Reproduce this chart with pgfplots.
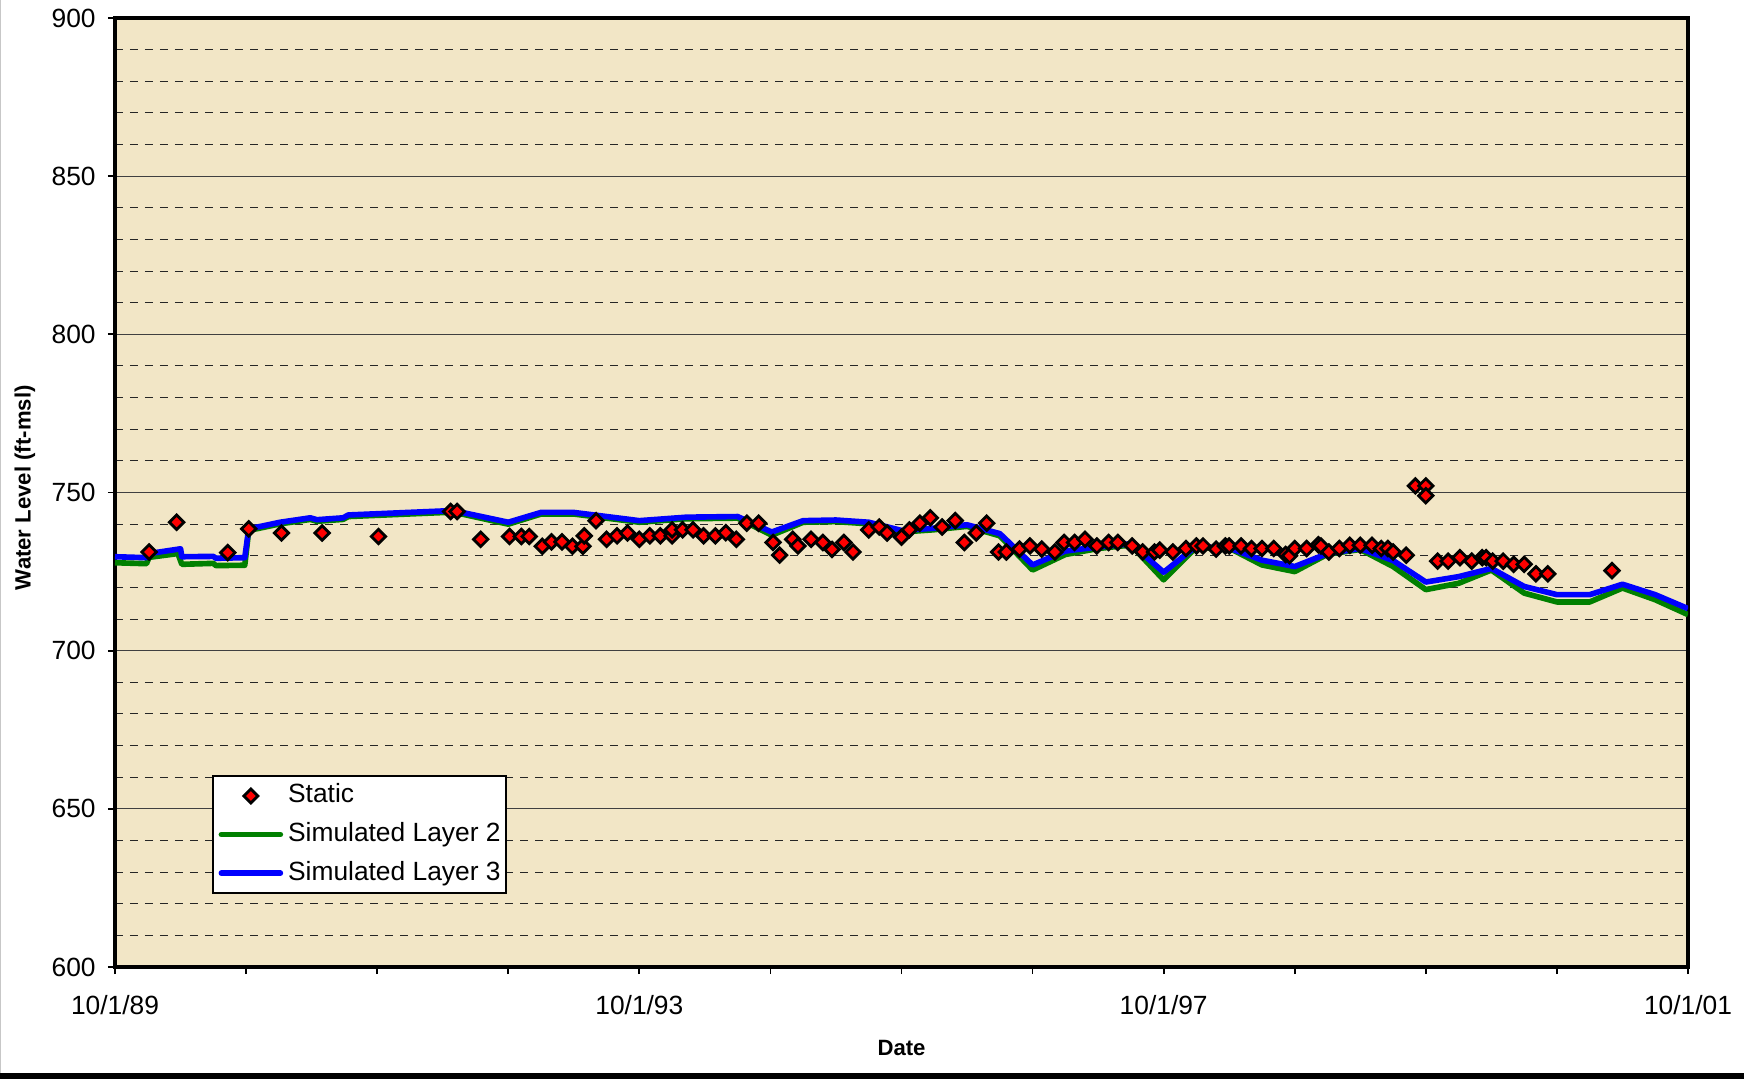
\documentclass[border=0pt]{standalone}
\usepackage{pgfplots}
\pgfplotsset{compat=1.18}
\usepackage{fontspec}
\setmainfont{Liberation Sans}
\definecolor{parch}{RGB}{242,230,198}
\definecolor{sgreen}{RGB}{0,128,0}
\definecolor{sblue}{RGB}{0,0,255}
\definecolor{sred}{RGB}{255,0,0}
\pgfplotstableread{
x y
0.26 731.2
0.47 740.6
0.86 731.0
1.02 738.5
1.27 737.2
1.58 737.2
2.01 736.1
2.56 744.0
2.61 744.0
2.79 735.2
3.01 736.1
3.10 736.1
3.16 736.1
3.26 733.0
3.33 734.4
3.41 734.4
3.49 733.0
3.57 733.0
3.58 736.3
3.67 741.1
3.75 735.2
3.83 736.3
3.91 737.2
4.00 735.2
4.08 736.3
4.16 736.3
4.25 736.3
4.25 738.2
4.33 738.2
4.41 738.2
4.49 736.3
4.58 736.3
4.66 737.3
4.74 735.2
4.82 740.3
4.91 740.3
5.02 734.2
5.07 730.2
5.17 735.2
5.21 733.1
5.31 735.2
5.40 734.2
5.47 732.0
5.56 734.2
5.63 731.2
5.75 738.2
5.83 739.1
5.89 737.2
6.00 735.9
6.06 738.2
6.14 740.3
6.22 742.0
6.31 739.1
6.41 741.1
6.48 734.2
6.57 737.2
6.65 740.3
6.74 731.2
6.80 731.2
6.90 732.1
6.98 733.1
7.07 732.1
7.17 731.2
7.24 734.2
7.32 734.2
7.40 735.2
7.49 733.1
7.58 734.2
7.65 734.2
7.76 733.1
7.84 731.2
7.93 731.2
7.97 731.8
8.07 731.2
8.17 732.3
8.25 733.1
8.30 733.1
8.40 732.1
8.47 733.1
8.50 733.1
8.59 733.1
8.67 732.3
8.75 732.3
8.84 732.3
8.93 730.4
8.96 730.0
9.00 732.3
9.09 732.3
9.18 733.5
9.20 733.1
9.26 731.2
9.34 732.3
9.42 733.3
9.50 733.3
9.59 733.3
9.66 732.3
9.71 732.3
9.75 731.2
9.85 730.2
9.92 752.1
10.00 752.1
10.00 749.0
10.09 728.3
10.17 728.3
10.26 729.4
10.35 728.3
10.43 729.4
10.46 729.4
10.51 728.3
10.59 728.3
10.67 727.3
10.75 727.3
10.84 724.3
10.93 724.3
11.42 725.3
}\staticdata
\pgfplotstableread{
x y
0.00 729.7
0.24 729.4
0.26 730.7
0.50 732.2
0.51 729.7
0.75 729.8
0.77 729.2
0.99 729.4
1.02 738.5
1.26 740.6
1.49 742.0
1.54 741.4
1.74 742.0
1.78 742.9
2.58 744.3
3.00 740.6
3.25 743.7
3.50 743.7
4.00 741.1
4.36 742.2
4.75 742.4
5.01 737.5
5.25 741.1
5.50 741.3
5.75 740.6
6.00 738.0
6.24 738.7
6.50 739.8
6.75 737.0
7.00 727.1
7.25 731.5
7.50 732.8
7.75 733.8
8.00 724.8
8.25 733.1
8.53 732.0
8.75 728.6
9.00 726.6
9.25 730.7
9.50 732.3
9.75 728.5
10.00 721.7
10.25 723.4
10.50 726.0
10.75 720.3
11.00 717.7
11.25 717.7
11.50 721.0
11.75 717.7
12.00 713.3
}\layerthree
\pgfplotstableread{
x y
0.00 727.8
0.24 727.5
0.26 729.5
0.48 730.7
0.51 727.3
0.75 727.6
0.77 726.9
0.99 727.0
1.02 738.0
1.26 740.1
1.49 741.5
1.54 740.9
1.74 741.5
1.78 742.4
2.58 743.8
3.00 740.0
3.25 743.2
3.50 743.2
4.00 740.6
4.36 741.7
4.75 741.9
5.01 736.5
5.25 740.6
5.50 740.8
5.75 740.1
6.00 737.5
6.24 738.2
6.50 739.3
6.75 736.3
7.00 725.5
7.25 730.4
7.50 732.3
7.75 733.4
8.00 722.4
8.25 732.8
8.53 731.8
8.75 727.1
9.00 725.0
9.25 730.5
9.50 732.0
9.75 726.6
10.00 719.3
10.25 721.3
10.50 725.5
10.75 718.2
11.00 715.4
11.25 715.4
11.50 719.8
11.75 716.1
12.00 711.4
}\layertwo
\begin{document}
\begin{tikzpicture}
\path[use as bounding box] (-11.5mm,-11.2mm) rectangle (162.9mm,96.7mm);
\begin{axis}[
  scale only axis, width=157.3mm, height=94.9mm,
  at={(0,0)}, anchor=south west,
  xmin=0, xmax=12, ymin=600, ymax=900,
  axis background/.style={fill=parch},
  axis line style={line width=1.4pt, black},
  xtick={0,1,...,12},
  xticklabels={10/1/89,,,,10/1/93,,,,10/1/97,,,,10/1/01},
  ytick={600,650,...,900},
  minor y tick num=4,
  minor tick length=0pt,
  tick align=outside,
  xtick pos=bottom, ytick pos=left,
  major tick length=0.7mm,
  tick style={black, line width=0.5pt},
  ymajorgrids, yminorgrids,
  major grid style={black!75, line width=0.3pt, solid},
  minor grid style={black!85, line width=0.3pt, dash pattern=on 0.8mm off 0.7mm},
  tick label style={font=\fontsize{7.5pt}{9pt}\selectfont},
  xticklabel style={yshift=-0.9mm},
  /pgf/number format/assume math mode=true,
  xlabel={Date},
  ylabel={Water Level (ft-msl)},
  xlabel style={font=\bfseries\fontsize{6.3pt}{7.5pt}\selectfont, at={(axis description cs:0.5,-0.0854)}, anchor=center},
  ylabel style={font=\bfseries\fontsize{6.3pt}{7.5pt}\selectfont, at={(axis description cs:-0.0572,0.505)}, anchor=center},
  legend image code/.code={\draw[mark repeat=2,mark phase=2,#1] plot coordinates {(0mm,0mm) (2.95mm,0mm) (5.9mm,0mm)};},
  legend cell align=left,
  legend style={at={(0.0617,0.2023)}, anchor=north west, draw=black, line width=0.5pt, fill=white,
    font=\fontsize{7.5pt}{9pt}\selectfont, inner xsep=1.6pt, inner ysep=2.2pt, row sep=4pt, column sep=1.4pt,
    nodes={inner sep=0pt, text height=5.5pt, text depth=1.5pt}},
]
\addlegendimage{only marks, mark=square*, mark size=1.4pt, mark options={rotate=45, fill=sred, draw=black, line width=0.8pt}}
\addlegendentry{Static}
\addlegendimage{sgreen, line width=1.6pt, line cap=round}
\addlegendentry{Simulated Layer 2}
\addlegendimage{sblue, line width=1.6pt, line cap=round}
\addlegendentry{Simulated Layer 3}
\addplot[forget plot, sgreen, line width=1.6pt, line join=round] table[x=x,y=y] {\layertwo};
\addplot[forget plot, sblue, line width=1.6pt, line join=round] table[x=x,y=y] {\layerthree};
\addplot[forget plot, only marks, mark=square*, mark size=1.45pt, mark options={rotate=45, fill=sred, draw=black, line width=0.8pt}] table[x=x,y=y] {\staticdata};
\end{axis}
\fill[black] (-11.5mm,-11.2mm) rectangle (162.9mm,-10.55mm);
\fill[black!22] (-11.5mm,-10.55mm) rectangle (-11.35mm,96.7mm);
\end{tikzpicture}
\end{document}
